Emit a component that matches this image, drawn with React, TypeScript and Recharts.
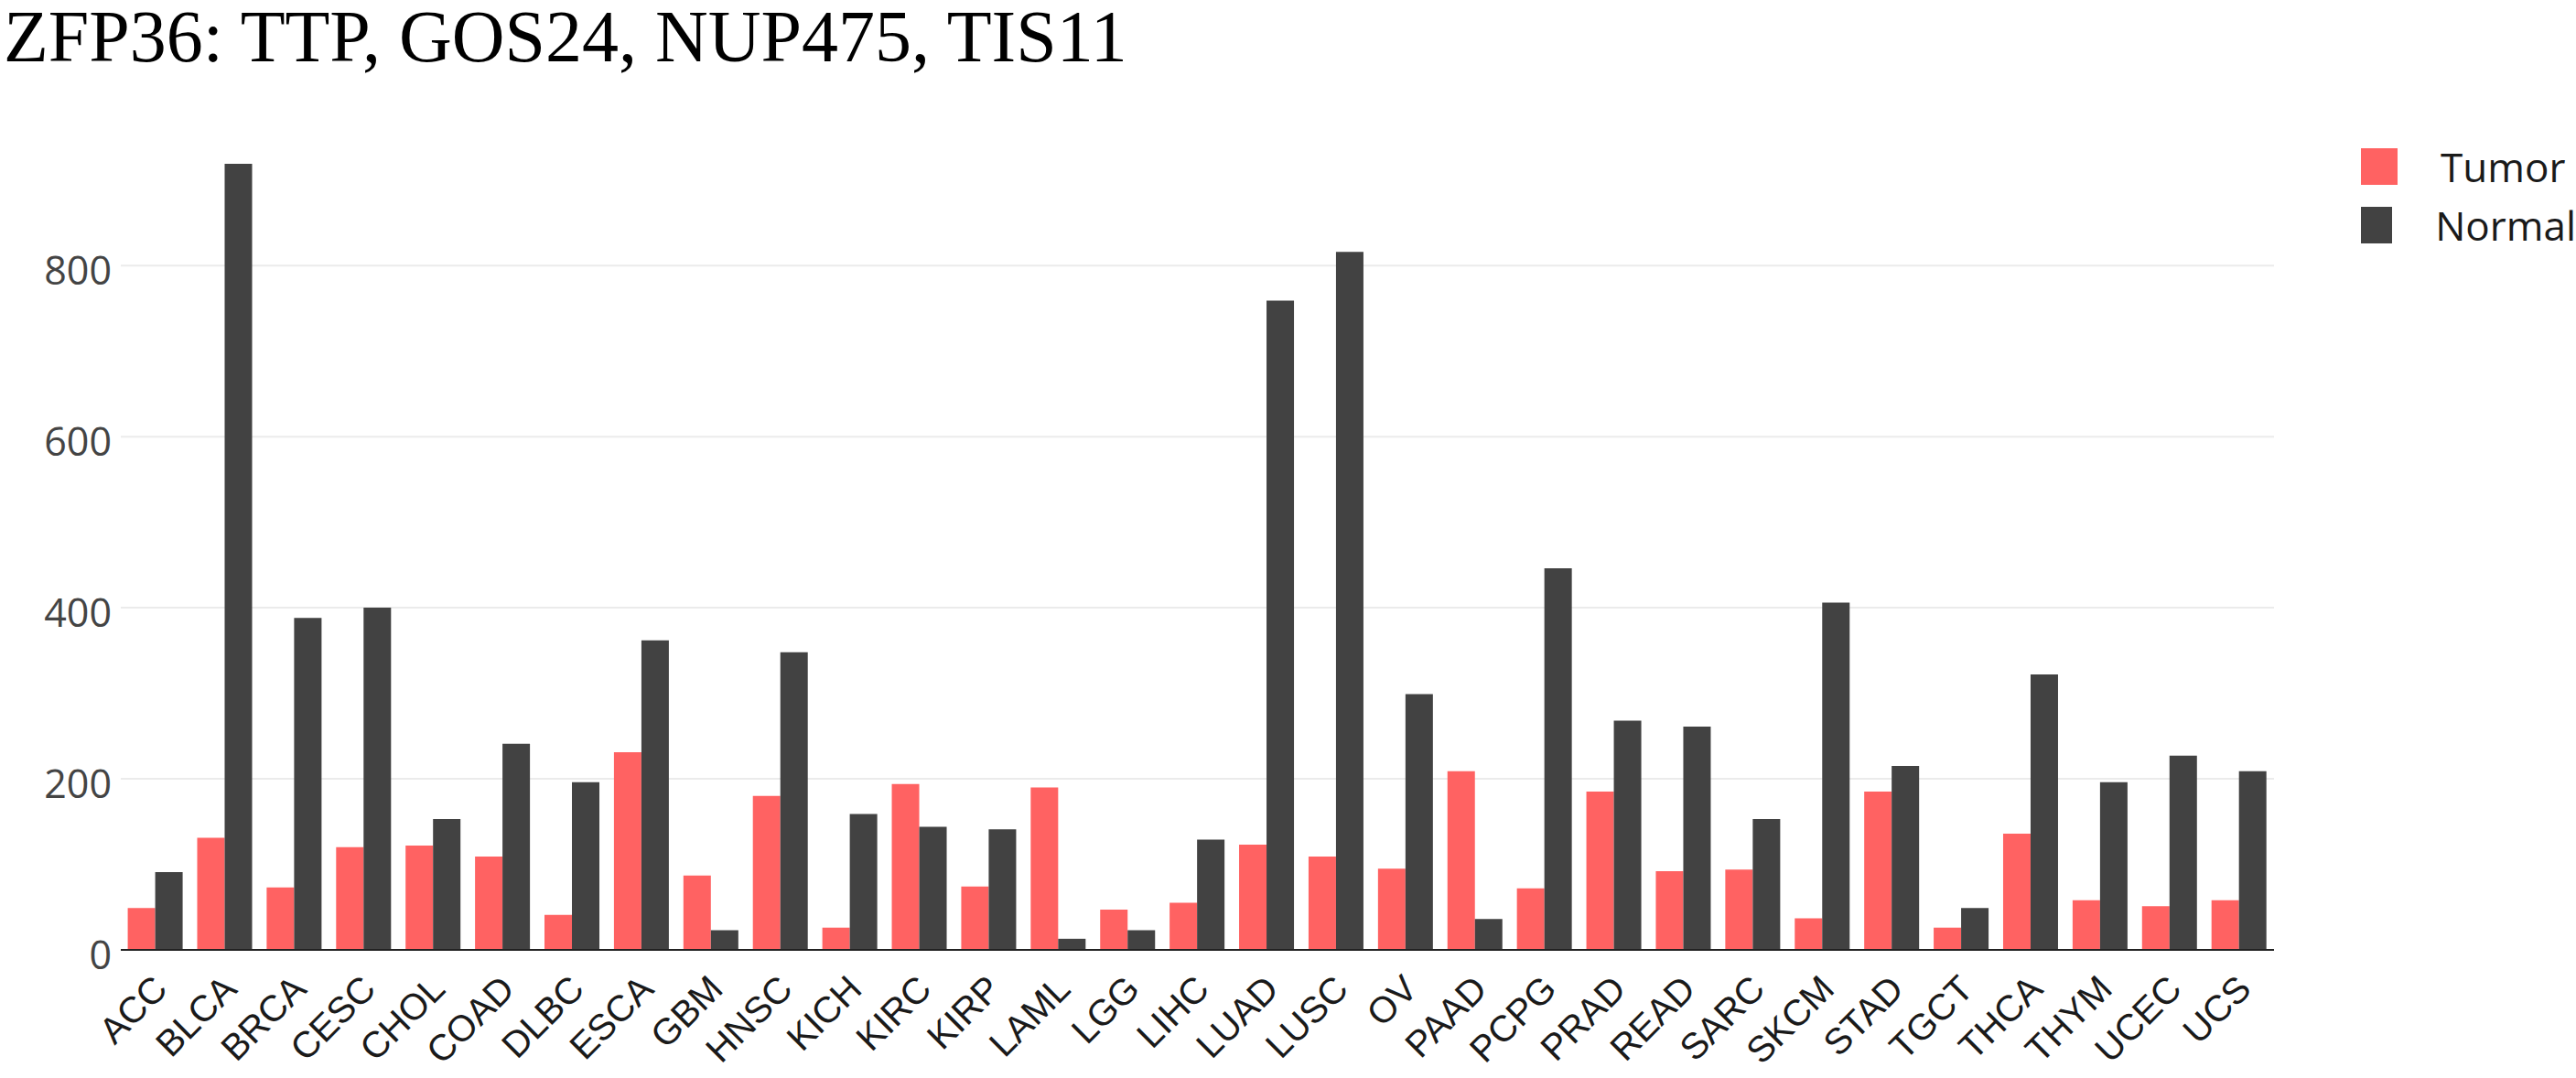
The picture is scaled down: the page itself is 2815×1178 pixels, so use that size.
import React from 'react'
import { BarChart, Bar, XAxis, YAxis, CartesianGrid, Legend } from 'recharts'

const cancers = [
  'ACC', 'BLCA', 'BRCA', 'CESC', 'CHOL', 'COAD', 'DLBC', 'ESCA', 'GBM', 'HNSC', 'KICH',
  'KIRC', 'KIRP', 'LAML', 'LGG', 'LIHC', 'LUAD', 'LUSC', 'OV', 'PAAD', 'PCPG', 'PRAD',
  'READ', 'SARC', 'SKCM', 'STAD', 'TGCT', 'THCA', 'THYM', 'UCEC', 'UCS',
]

const tumor = [
  49, 131, 73, 120, 122, 109, 41, 231, 87, 180, 26,
  194, 74, 190, 47, 55, 123, 109, 95, 209, 72, 185,
  92, 94, 37, 185, 26, 136, 58, 51, 58,
]

const normal = [
  91, 919, 388, 400, 153, 241, 196, 362, 23, 348, 159,
  144, 141, 13, 23, 129, 759, 816, 299, 36, 446, 268,
  261, 153, 406, 215, 49, 322, 196, 227, 209,
]

const yTicks = [0, 200, 400, 600, 800]
const seriesOrder = ['Tumor', 'Normal']

const data = cancers.map((name, i) => ({ name, Tumor: tumor[i], Normal: normal[i] }))

const TUMOR_COLOR = '#ff6262'
const NORMAL_COLOR = '#424242'

function XTick({ x, y, payload }: any) {
  return (
    <text
      transform={`translate(${x + 15},${y + 45}) rotate(-45)`}
      textAnchor="end"
      fontFamily="'Liberation Sans', Arial, sans-serif"
      fontSize={40}
      fill="#1a1a1a"
    >
      {payload.value}
    </text>
  )
}

function YTick({ x, y, payload }: any) {
  return (
    <text
      x={x - 10}
      y={y + 21}
      textAnchor="end"
      fontFamily="'Open Sans', sans-serif"
      fontSize={43}
      fill="#444"
    >
      {payload.value}
    </text>
  )
}

function LegendBox({ payload }: any) {
  const items = [...(payload || [])].sort(
    (a: any, b: any) => seriesOrder.indexOf(a.value) - seriesOrder.indexOf(b.value)
  )
  return (
    <div>
      {items.map((entry: any) => (
        <div key={entry.value} style={{ display: 'flex', alignItems: 'center', height: 64 }}>
          <div style={{ width: 40, height: 40, background: entry.color, marginRight: 47 }} />
          <span style={{ fontFamily: "'Open Sans', sans-serif", fontSize: 44, color: '#1a1a1a' }}>
            {entry.value}
          </span>
        </div>
      ))}
    </div>
  )
}

export default function App() {
  return (
    <div style={{ position: 'absolute', left: 0, top: 0, width: 2815, height: 1178, background: '#fff' }}>
      <div
        style={{
          position: 'absolute',
          left: 4,
          top: 0,
          fontFamily: "'Liberation Serif', 'Times New Roman', serif",
          fontSize: 80,
          lineHeight: '80px',
          color: '#000',
          whiteSpace: 'nowrap',
        }}
      >
        ZFP36: TTP, GOS24, NUP475, TIS11
      </div>
      <BarChart
        width={2815}
        height={1178}
        data={data}
        margin={{ top: 150, right: 330, bottom: 0, left: 0 }}
        barCategoryGap="10%"
        barGap={0}
      >
        <CartesianGrid vertical={false} horizontalValues={yTicks} stroke="#ebebeb" strokeWidth={2} />
        <XAxis
          dataKey="name"
          interval={0}
          height={140}
          tickLine={false}
          tickSize={0}
          tickMargin={0}
          axisLine={{ stroke: '#222', strokeWidth: 2 }}
          tick={<XTick />}
        />
        <YAxis
          width={132}
          domain={[0, 950]}
          ticks={yTicks}
          axisLine={false}
          tickLine={false}
          tickSize={0}
          tickMargin={0}
          tick={<YTick />}
        />
        <Legend
          layout="horizontal"
          verticalAlign="middle"
          align="center"
          content={<LegendBox />}
          wrapperStyle={{ position: 'absolute', left: 2580, top: 150, width: 235, height: 128 }}
        />
        <Bar dataKey="Tumor" fill={TUMOR_COLOR} isAnimationActive={false} />
        <Bar dataKey="Normal" fill={NORMAL_COLOR} isAnimationActive={false} />
      </BarChart>
    </div>
  )
}
